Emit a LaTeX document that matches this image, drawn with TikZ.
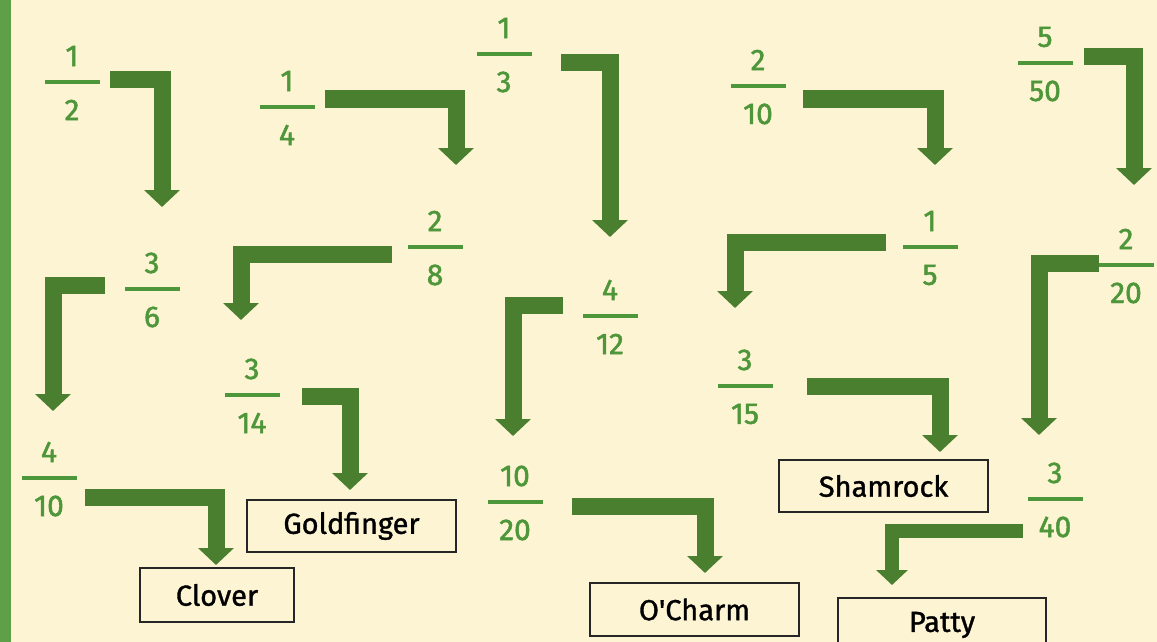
\documentclass[tikz,border=0pt]{standalone}
\usepackage{fontspec}
\setmainfont{Fira Sans}
\newfontface\fracfont{Fira Sans}[FakeBold=1.6]
\newfontface\boxfont{Fira Sans}[FakeBold=1.2]
\usetikzlibrary{arrows.meta}
\definecolor{bg}{HTML}{FDF4D3}
\definecolor{strip}{HTML}{5E9F48}
\definecolor{arr}{HTML}{4A7F30}
\definecolor{fr}{HTML}{4E963A}
\newcommand\myfrac[5]{%
  \node[fbar] (#1) at (#2,#3) {};
  \node[fnum] (#1n) at ([yshift=26pt]#1.center) {#4};
  \node[fnum] (#1d) at ([yshift=-28pt]#1.center) {#5};
}
\begin{document}
\begin{tikzpicture}[x=1pt,y=-1pt,
  fbar/.style={fill=fr, minimum width=55pt, minimum height=4.5pt, inner sep=0pt, draw=none},
  fnum/.style={text=fr, font=\fracfont\fontsize{30}{30}\selectfont, inner sep=0pt},
  elbow/.style={draw=arr, line width=17pt, line join=miter, line cap=butt, -{Triangle[width=35pt,length=17pt]}},
  thinelbow/.style={elbow, line width=14pt, -{Triangle[width=31pt,length=15pt]}},
  namebox/.style={draw=black!85, line width=2pt, fill=bg, minimum width=209pt, minimum height=52pt, font=\boxfont\fontsize{29}{29}\selectfont, inner sep=0pt}
]
\useasboundingbox (0,0) rectangle (1157,642);
\clip (0,0) rectangle (1157,642);
\fill[bg] (0,0) rectangle (1157,642);
\fill[strip] (0,0) rectangle (11,642);

% fractions
\myfrac{f12}{72}{82}{1}{2}
\myfrac{f14}{287}{107}{1}{4}
\myfrac{f13}{504}{54}{1}{3}
\myfrac{f210}{758}{86}{2}{10}
\myfrac{f550}{1045}{63}{5}{50}
\myfrac{f36}{152}{289}{3}{6}
\myfrac{f28}{435}{247}{2}{8}
\myfrac{f15}{930}{247}{1}{5}
\myfrac{f220}{1126}{265}{2}{20}
\myfrac{f412}{610}{316}{4}{12}
\myfrac{f314}{252}{395}{3}{14}
\myfrac{f315}{745}{386}{3}{15}
\myfrac{f410}{49}{478}{4}{10}
\myfrac{f1020}{515}{502}{10}{20}
\myfrac{f340}{1055}{499}{3}{40}

% boxes
\node[namebox, minimum width=154pt, minimum height=54pt] (clover) at (217,595) {Clover};
\node[namebox] (gold) at (351.5,526) {Goldfinger};
\node[namebox] (sham) at (883.5,486) {Shamrock};
\node[namebox, minimum height=53pt] (ocharm) at (694.5,609.5) {O'Charm};
\node[namebox, minimum width=208pt, minimum height=54pt] (patty) at (942,625) {Patty};

% arrow end points
\coordinate (s1) at (110,80);   \coordinate (t1) at (162,207);
\coordinate (s2) at (325,99);   \coordinate (t2) at (456,165);
\coordinate (s3) at (561,63);   \coordinate (t3) at (610,237);
\coordinate (s4) at (803,99);   \coordinate (t4) at (935,165);
\coordinate (s5) at (1084,57);  \coordinate (t5) at (1134,185);
\coordinate (s6) at (105,285);  \coordinate (t6) at (53,411);
\coordinate (s7) at (392,254);  \coordinate (t7) at (241,320);
\coordinate (s8) at (886,242);  \coordinate (t8) at (735,308);
\coordinate (s9) at (1099,263); \coordinate (t9) at (1039,435);
\coordinate (s10) at (563,305); \coordinate (t10) at (513,436);
\coordinate (s11) at (302,396); \coordinate (t11) at (350,490);
\coordinate (s12) at (807,386); \coordinate (t12) at (940,452);
\coordinate (s13) at (85,497);  \coordinate (t13) at (216,565);
\coordinate (s14) at (572,506); \coordinate (t14) at (705,573);
\coordinate (s15) at (1023,531); \coordinate (t15) at (892,585);

\foreach \i in {1,...,14} {\draw[elbow] (s\i) -| (t\i);}
\draw[thinelbow] (s15) -| (t15);
\end{tikzpicture}
\end{document}
